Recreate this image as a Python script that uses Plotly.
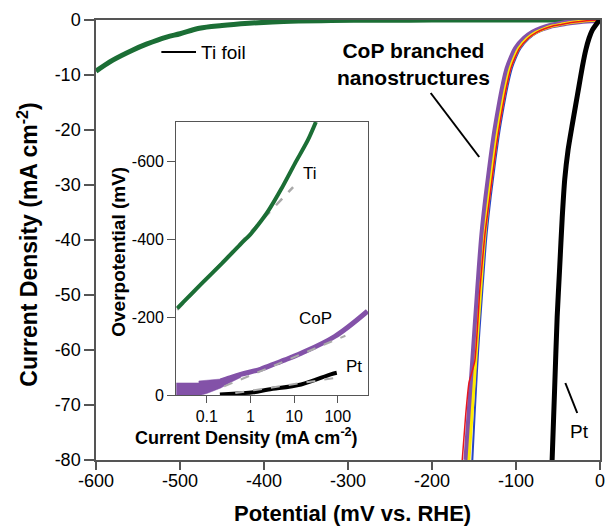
import plotly.graph_objects as go

# ---------------- main panel data (mV vs RHE, mA cm^-2) ----------------
ti_pot = [-600, -580, -556, -540, -516, -500, -477, -450, -418, -390, -359, -320, -280, -240, -200, -150, -100, -50, 0]
ti_cur = [-9.3, -7.3, -5.45, -4.4, -3.1, -2.5, -1.5, -1.0, -0.6, -0.35, -0.2, -0.1, -0.05, -0.03, -0.02, -0.01, 0, 0, 0]

cop_cur = [0, -0.05, -0.15, -0.3, -0.5, -0.8, -1.1, -1.6, -2.3, -3.4, -5.2, -6.8, -8.8, -12, -16, -20.5, -26, -32, -39, -49, -60, -71, -80]
cop_purple_pot = [0, -10, -20, -30, -40, -50, -60, -70, -80, -90, -100, -105, -110, -115, -120, -125, -130, -135, -140, -145, -150, -155, -159]
cop_yellow_pot = [0, -8, -17, -27, -37, -47, -57, -67, -77, -87, -97, -102, -107, -112, -117, -122, -127, -132, -137, -142, -147, -152, -156]
cop_blue_pot = [0, -7, -16, -25, -35, -45, -55, -65, -75, -85, -95, -100, -105, -110, -115, -120, -125, -130, -135, -140, -145, -149, -152]
red_pot = [0, -7, -16, -26, -36, -46, -56, -66, -76, -86, -96, -101, -106, -111, -116, -121, -126, -131, -137, -143, -149, -156, -160, -164]
red_cur = [0, -0.05, -0.15, -0.3, -0.5, -0.8, -1.1, -1.6, -2.3, -3.4, -5.2, -6.8, -8.8, -12, -16, -20.5, -26, -32, -39, -49, -62, -66, -72, -80]

pt_pot = [0, -2, -5, -9, -13, -17, -21, -25, -29, -33, -38, -42, -45, -48, -51, -54, -57]
pt_cur = [0, -0.3, -0.9, -1.8, -3.3, -5.5, -8.5, -12, -15.5, -19, -23.6, -29, -36, -45, -54, -67, -80]

# ---------------- inset data (mA cm^-2, mV) ----------------
ti_j = [0.021, 0.077, 0.22, 0.62, 1.0, 1.52, 2.56, 5.07, 10.5, 20.8, 31.6]
ti_eta = [-222, -286, -337, -389, -412, -437, -472, -528, -594, -654, -700]
ti_fit_j = [0.021, 9.5]
ti_fit_eta = [-218, -533]

cop_j = [0.21, 0.32, 0.6, 1.69, 4.0, 6.2, 14.5, 85, 480]
cop_eta = [-36, -43, -53, -66, -82, -90, -107, -150, -215]
cop_band_j = [0.02, 0.02, 0.066, 0.066, 0.21, 0.32, 0.6, 0.6, 0.32, 0.21, 0.1, 0.075, 0.02]
cop_band_eta = [0, -31, -31, -36, -41, -46, -57, -45, -30, -18, -4, 0, 0]
cop_fit_j = [0.25, 150]
cop_fit_eta = [-22, -152]

pt_j = [0.2, 0.5, 1.17, 2.6, 14.5, 69, 95]
pt_eta = [-1, -4, -7, -14, -27, -53, -57]
pt_fit_j = [0.45, 89]
pt_fit_eta = [-5, -44]

x_ticks = [-600, -500, -400, -300, -200, -100, 0]
x_tick_text = ["-600", "-500", "-400", "-300", "-200", "-100", "0"]
y_ticks = [0, -10, -20, -30, -40, -50, -60, -70, -80]
y_tick_text = ["0", "-10", "-20", "-30", "-40", "-50", "-60", "-70", "-80"]
inset_x_ticks = [0.1, 1, 10, 100]
inset_x_text = ["0.1", "1", "10", "100"]
inset_y_ticks = [-600, -400, -200, 0]
inset_y_text = ["-600", "-400", "-200", "0"]

GREEN = "#1b6e35"
PURPLE = "#8352a8"
YELLOW = "#ffec00"
RED = "#e8161e"
BLUE = "#2a46c4"
GREY = "#aaaaaa"
AX = "#555555"
FONT = "Arial, Liberation Sans, sans-serif"

W, H = 609, 526
L, R, T, B = 96, 4, 20, 66
PW, PH = W - L - R, H - T - B


def px(x):
    return (x - L) / PW


def py(y):
    return (H - B - y) / PH


fig = go.Figure()

# main traces
fig.add_trace(go.Scatter(x=ti_pot, y=ti_cur, mode="lines", line=dict(color=GREEN, width=5, shape="spline")))
fig.add_trace(go.Scatter(x=cop_blue_pot, y=cop_cur, mode="lines", line=dict(color=BLUE, width=2, shape="spline")))
fig.add_trace(go.Scatter(x=cop_purple_pot, y=cop_cur, mode="lines", line=dict(color=PURPLE, width=6, shape="spline")))
fig.add_trace(go.Scatter(x=cop_yellow_pot, y=cop_cur, mode="lines", line=dict(color=YELLOW, width=3, shape="spline")))
fig.add_trace(go.Scatter(x=red_pot, y=red_cur, mode="lines", line=dict(color=RED, width=1.5, shape="spline",
                                                                      smoothing=0.5)))
fig.add_trace(go.Scatter(x=pt_pot, y=pt_cur, mode="lines", line=dict(color="black", width=5, shape="spline",
                                                                     smoothing=0.6)))

# inset traces
fig.add_trace(go.Scatter(x=cop_band_j, y=cop_band_eta, xaxis="x2", yaxis="y2", mode="lines", fill="toself",
                         fillcolor=PURPLE, line=dict(color=PURPLE, width=0.5)))
fig.add_trace(go.Scatter(x=cop_j, y=cop_eta, xaxis="x2", yaxis="y2", mode="lines",
                         line=dict(color=PURPLE, width=5, shape="spline")))
fig.add_trace(go.Scatter(x=cop_fit_j, y=cop_fit_eta, xaxis="x2", yaxis="y2", mode="lines",
                         line=dict(color=GREY, width=2, dash="dash")))
fig.add_trace(go.Scatter(x=pt_j, y=pt_eta, xaxis="x2", yaxis="y2", mode="lines",
                         line=dict(color="black", width=4, shape="spline")))
fig.add_trace(go.Scatter(x=pt_fit_j, y=pt_fit_eta, xaxis="x2", yaxis="y2", mode="lines",
                         line=dict(color=GREY, width=2, dash="dash")))
fig.add_trace(go.Scatter(x=ti_fit_j, y=ti_fit_eta, xaxis="x2", yaxis="y2", mode="lines",
                         line=dict(color=GREY, width=2.5, dash="dash")))
fig.add_trace(go.Scatter(x=ti_j, y=ti_eta, xaxis="x2", yaxis="y2", mode="lines",
                         line=dict(color=GREEN, width=4, shape="spline", smoothing=0.8)))

fig.update_layout(
    width=W, height=H, margin=dict(l=L, r=R, t=T, b=B),
    paper_bgcolor="white", plot_bgcolor="white", showlegend=False,
    font=dict(family=FONT, color="black"),
    xaxis=dict(range=[-600, 0], tickvals=x_ticks, ticktext=x_tick_text, ticks="outside", ticklen=8,
               tickwidth=1.5, tickcolor=AX, ticklabelstandoff=-4,
               showline=True, linecolor=AX, linewidth=1.5, mirror=True, showgrid=False, zeroline=False,
               tickfont=dict(size=18, family=FONT, color="black"), domain=[0, 1]),
    yaxis=dict(range=[-80, 0], tickvals=y_ticks, ticktext=y_tick_text, ticks="outside", ticklen=10,
               tickwidth=1.5, tickcolor=AX,
               showline=True, linecolor=AX, linewidth=1.5, mirror=True, showgrid=False, zeroline=False,
               tickfont=dict(size=18, family=FONT, color="black"), domain=[0, 1]),
    xaxis2=dict(type="log", range=[-1.70, 2.70], tickvals=inset_x_ticks, ticktext=inset_x_text,
                ticks="outside", ticklen=7, tickwidth=1, tickcolor=AX, anchor="y2",
                showline=True, linecolor=AX, linewidth=1.2, mirror=True, showgrid=False, zeroline=False,
                tickfont=dict(size=16, family=FONT, color="black"), domain=[px(177), px(371)]),
    yaxis2=dict(range=[0, -700], tickvals=inset_y_ticks, ticktext=inset_y_text, ticks="outside", ticklen=8,
                tickwidth=1, tickcolor=AX,
                anchor="x2", showline=True, linecolor=AX, linewidth=1.2, mirror=True, showgrid=False,
                zeroline=False, tickfont=dict(size=16, family=FONT, color="black"),
                domain=[py(395), py(122)]),
)

# inset white background
fig.add_shape(type="rect", xref="paper", yref="paper", x0=px(177), x1=px(371), y0=py(395), y1=py(122),
              fillcolor="white", line=dict(width=0), layer="below")

# pointer lines and legend segment
fig.add_shape(type="line", xref="paper", yref="paper", x0=px(162), x1=px(197), y0=py(52), y1=py(52),
              line=dict(color="black", width=2))
fig.add_shape(type="line", xref="paper", yref="paper", x0=px(434), x1=px(483), y0=py(93), y1=py(157),
              line=dict(color="black", width=2))
fig.add_shape(type="line", xref="paper", yref="paper", x0=px(570), x1=px(582), y0=py(383), y1=py(413),
              line=dict(color="black", width=2))

anns = [
    dict(x=px(200), y=py(52), text="Ti foil", xanchor="left", font=dict(size=19)),
    dict(x=px(417), y=py(64), text="<b>CoP branched<br>nanostructures</b>", xanchor="center",
         font=dict(size=21)),
    dict(x=px(584), y=py(431), text="Pt", xanchor="center", font=dict(size=19)),
    dict(x=px(312), y=py(173), text="Ti", xanchor="center", font=dict(size=17)),
    dict(x=px(318), y=py(318), text="CoP", xanchor="center", font=dict(size=17)),
    dict(x=px(357), y=py(366), text="Pt", xanchor="center", font=dict(size=17)),
    dict(x=px(355), y=py(513), text="<b>Potential (mV vs. RHE)</b>", xanchor="center", font=dict(size=22)),
    dict(x=px(27), y=py(245), text="<b>Current Density (mA cm<sup>-2</sup>)</b>", textangle=-90,
         xanchor="center", font=dict(size=23)),
    dict(x=px(248), y=py(436), text="<b>Current Density (mA cm<sup>-2</sup>)</b>", xanchor="center",
         font=dict(size=18)),
    dict(x=px(118), y=py(252), text="<b>Overpotential (mV)</b>", textangle=-90, xanchor="center",
         font=dict(size=19)),
]
for a in anns:
    a.update(xref="paper", yref="paper", showarrow=False, yanchor="middle")
    a["font"].update(family=FONT, color="black")
    fig.add_annotation(**a)

fig.write_html("out.html", config={"displayModeBar": False},
               post_script="document.body.style.margin='0';document.body.style.padding='0';"
                           "document.body.style.overflow='hidden';")
